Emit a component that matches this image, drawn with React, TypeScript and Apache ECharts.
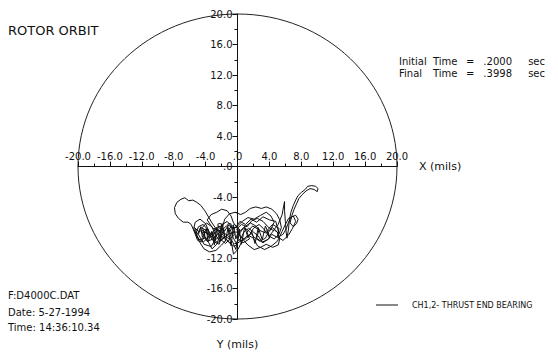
import React, { useEffect, useRef } from "react";
import * as echarts from "echarts";

const titleText = "ROTOR ORBIT";
const seriesName = "CH1,2- THRUST END BEARING";
const xAxisName = "X (mils)";
const yAxisName = "Y (mils)";
const axisMin = -20;
const axisMax = 20;
const axisInterval = 4;
const timeRowLabels = ["Initial", "Final"];
const timeValues = [".2000", ".3998"];
const fileInfo = ["F:D4000C.DAT", "Date: 5-27-1994", "Time: 14:36:10.34"];

// Orbit trace (x, y in mils)
const orbitPoints: [number, number][] = [
  [-5.4, -8.3], [-5.0, -9.4], [-4.3, -9.9], [-3.6, -9.3], [-3.9, -8.4], [-4.6, -8.0], [-4.9, -8.9], [-4.2, -10.2],
  [-3.3, -10.5], [-2.8, -9.6], [-3.1, -8.7], [-2.5, -7.9], [-1.8, -8.4], [-2.2, -9.5], [-1.5, -10.1], [-0.8, -9.3],
  [-1.1, -8.2], [-0.4, -7.6], [0.3, -8.3], [0.0, -9.4], [0.7, -10.0], [1.5, -9.5], [1.2, -8.6], [1.9, -7.8],
  [2.7, -8.3], [2.4, -9.4], [3.2, -10.0], [4.0, -9.4], [3.7, -8.4], [4.4, -7.6], [5.2, -8.1], [5.0, -9.2],
  [5.7, -9.7], [6.4, -9.0], [6.9, -8.1], [7.3, -7.2], [7.0, -6.5], [6.4, -6.8], [6.0, -7.6], [5.6, -8.5],
  [5.0, -9.8], [4.3, -10.4], [3.4, -10.9], [2.5, -10.4], [2.0, -9.4], [1.3, -9.0], [0.6, -9.7], [0.1, -10.8],
  [-0.5, -11.5], [-0.7, -10.3], [-1.4, -9.6], [-2.0, -10.3], [-2.7, -11.0], [-3.5, -11.2], [-4.2, -10.8], [-4.7, -10.0],
  [-5.1, -9.1], [-5.5, -8.2], [-5.3, -7.3], [-4.7, -6.9], [-4.0, -7.5], [-3.6, -8.5], [-3.0, -9.3], [-2.3, -8.8],
  [-2.0, -7.7], [-1.3, -7.2], [-0.7, -7.9], [-0.4, -9.0],
  [-1.0, -9.5], [-1.8, -9.0], [-2.6, -8.3], [-3.2, -7.4], [-3.7, -6.5], [-4.1, -5.8], [-4.6, -5.1], [-5.1, -4.7],
  [-5.6, -4.4], [-6.1, -4.5], [-6.6, -4.1], [-7.1, -4.3], [-7.6, -4.7], [-7.9, -5.4], [-7.8, -6.2], [-7.4, -6.8],
  [-6.8, -7.3], [-6.2, -7.3], [-5.8, -7.6], [-5.4, -8.6], [-5.0, -9.7],
  [-4.5, -9.9], [-4.1, -9.0], [-4.4, -8.0], [-3.9, -7.4], [-3.2, -7.9], [-2.8, -8.9], [-2.2, -9.8], [-1.6, -9.1],
  [-1.9, -8.0], [-1.6, -6.9], [-1.0, -6.2], [-0.3, -6.0], [0.4, -6.3], [1.0, -6.0], [1.6, -5.5], [2.3, -5.3],
  [3.0, -5.5], [3.6, -5.3], [4.3, -5.6], [4.9, -6.2], [5.3, -7.0], [5.5, -8.0], [5.2, -8.9], [4.6, -9.5],
  [3.9, -9.1], [3.3, -8.2], [2.7, -7.6], [2.0, -8.1], [1.5, -9.0], [0.9, -9.6], [0.3, -9.1], [-0.1, -8.2],
  [0.5, -7.6], [1.2, -7.9], [1.8, -7.1], [2.5, -6.8], [3.2, -7.2], [3.8, -7.9], [4.5, -8.4], [5.1, -7.6],
  [5.6, -6.3], [5.8, -5.1], [5.9, -4.6], [5.9, -5.8], [6.0, -7.2], [6.1, -8.6], [6.2, -9.4], [6.4, -8.2],
  [6.5, -7.0], [6.7, -6.0], [7.0, -5.1], [7.3, -4.4], [7.6, -3.8], [8.0, -3.4], [8.5, -3.0], [8.8, -2.6],
  [9.3, -2.5], [9.8, -2.6], [10.1, -2.9], [10.0, -3.3], [9.6, -3.0], [9.1, -2.9], [8.6, -3.2], [8.1, -3.7],
  [7.7, -4.2], [7.4, -4.9], [7.1, -5.6], [6.8, -6.5], [6.6, -7.4],
  [7.0, -7.9], [7.4, -7.5], [7.6, -6.9], [7.3, -6.4], [6.8, -6.6], [6.4, -7.3], [6.1, -8.2], [5.7, -8.9],
  [5.0, -9.3], [4.3, -8.9], [3.8, -9.6], [3.1, -9.9], [2.6, -9.1], [2.0, -8.6], [1.4, -8.1], [0.8, -8.6],
  [0.4, -9.5], [-0.2, -10.0], [-0.6, -9.2], [-0.9, -8.3], [-1.4, -7.8], [-2.0, -8.4], [-2.4, -9.3], [-3.0, -9.8],
  [-3.5, -9.1], [-3.8, -8.2], [-4.3, -7.6], [-4.9, -7.9], [-5.2, -8.8], [-4.8, -9.6], [-4.1, -9.4], [-3.6, -10.0],
  [-3.2, -10.8], [-2.6, -10.2], [-2.3, -9.3], [-1.7, -8.7], [-1.1, -9.2], [-0.6, -9.9], [-0.2, -10.9], [0.0, -9.7],
  [0.3, -8.7], [0.8, -8.0],
  [1.5, -8.5], [2.1, -9.3], [2.8, -9.8], [3.5, -9.4], [3.9, -8.6], [4.4, -8.0], [5.0, -8.6], [5.3, -9.5],
  [5.1, -10.3], [4.4, -10.6], [3.6, -10.2], [2.9, -10.6], [2.1, -10.9], [1.3, -10.3], [0.7, -9.6], [0.2, -9.9],
  [-0.4, -10.5], [-1.0, -10.0], [-1.5, -9.4], [-2.2, -9.1], [-2.8, -8.4], [-3.3, -7.8], [-3.8, -7.0], [-3.3, -6.3],
  [-2.6, -6.0], [-2.0, -5.6], [-1.3, -5.8], [-0.8, -6.5], [-0.5, -7.4], [-0.1, -7.9], [0.6, -7.2], [1.3, -6.7],
  [2.1, -6.9], [2.9, -6.4], [3.6, -6.0], [4.2, -6.5], [4.6, -7.3], [4.2, -8.2], [3.5, -8.7], [2.8, -8.4],
  [2.3, -7.8], [1.6, -7.4], [0.9, -7.9], [0.2, -8.6], [-0.5, -8.6], [-1.2, -8.9], [-1.9, -9.6], [-2.5, -10.0],
  [-3.1, -9.4], [-3.7, -8.9], [-4.3, -8.4], [-4.9, -8.5], [-5.4, -8.0],
  [-5.0, -8.9], [-4.6, -7.9], [-4.4, -9.3], [-3.9, -8.1], [-3.7, -9.9], [-3.2, -8.5], [-2.9, -10.3], [-2.6, -8.0],
  [-2.2, -9.6], [-1.9, -7.5], [-1.5, -9.8], [-1.2, -8.1], [-0.8, -10.4], [-0.5, -7.7], [-0.2, -9.5], [0.2, -8.2],
  [0.5, -10.2], [0.9, -7.9], [1.3, -9.3], [1.8, -8.6], [2.2, -10.1], [2.6, -8.0], [3.1, -9.6], [3.5, -7.8],
  [4.0, -9.1], [4.6, -8.3], [5.2, -8.8], [4.8, -7.2], [4.0, -7.0], [3.2, -6.6], [2.4, -7.3], [1.7, -6.9],
  [1.0, -7.6], [0.3, -7.2], [-0.4, -8.2], [-1.1, -7.7], [-1.8, -8.7], [-2.5, -8.3], [-3.2, -9.2], [-3.8, -8.7],
  [-4.5, -8.6], [-4.0, -9.5], [-3.4, -9.0], [-3.7, -8.2], [-4.2, -8.9], [-3.8, -9.8], [-3.0, -9.5], [-3.3, -8.6],
  [-2.6, -8.9], [-2.9, -9.9], [-2.3, -10.2], [-2.0, -9.2],
];

const FONT = "DejaVu Sans";
const INK = "#111";

// grid placement in pixels
const GRID_LEFT = 78;
const GRID_RIGHT = 161;
const GRID_TOP = 14;
const GRID_BOTTOM = 33;
const GRID_W = 558 - GRID_LEFT - GRID_RIGHT;
const GRID_H = 352 - GRID_TOP - GRID_BOTTOM;

function fmtTick(v: number): string {
  if (v === 0) return ".0";
  return v.toFixed(1);
}

export default function App() {
  const ref = useRef<HTMLDivElement>(null);

  useEffect(() => {
    if (!ref.current) return;
    const chart = echarts.init(ref.current, undefined, { renderer: "svg" });

    const axisCommon = {
      type: "value" as const,
      min: axisMin,
      max: axisMax,
      interval: axisInterval,
      axisLine: { show: true, onZero: false, lineStyle: { color: INK, width: 1 } },
      axisTick: { show: true, inside: false, length: 5, lineStyle: { color: INK, width: 1 } },
      minorTick: { show: true, splitNumber: 2, length: 3, lineStyle: { color: INK, width: 1 } },
      splitLine: { show: false },
      minorSplitLine: { show: false },
      axisLabel: { formatter: fmtTick, margin: 5, color: INK, fontFamily: FONT, fontSize: 10 },
      nameTextStyle: { color: INK, fontFamily: FONT, fontSize: 11 },
    };

    chart.setOption({
      animation: false,
      backgroundColor: "#ffffff",
      grid: { left: GRID_LEFT, right: GRID_RIGHT, top: GRID_TOP, bottom: GRID_BOTTOM, containLabel: false },
      xAxis: {
        ...axisCommon,
        position: "top",
        offset: -GRID_H / 2,
        name: xAxisName,
        nameLocation: "end",
        nameGap: 22,
      },
      yAxis: {
        ...axisCommon,
        position: "left",
        offset: -GRID_W / 2,
        name: yAxisName,
        nameLocation: "start",
        nameGap: 20,
      },
      legend: {
        data: [{ name: seriesName }],
        left: 376,
        top: 301,
        padding: 0,
        icon: "rect",
        itemWidth: 22,
        itemHeight: 1,
        itemGap: 14,
        textStyle: { color: INK, fontFamily: FONT, fontSize: 8, padding: [0, 0, 0, 9] },
      },
      series: [
        {
          type: "line",
          name: seriesName,
          data: orbitPoints,
          showSymbol: false,
          symbol: "none",
          clip: false,
          color: INK,
          lineStyle: { color: INK, width: 1 },
        },
      ],
    });

    const c = chart.convertToPixel({ gridIndex: 0 }, [0, 0]) as number[];
    const e = chart.convertToPixel({ gridIndex: 0 }, [axisMax, axisMax]) as number[];
    const rx = e[0] - c[0];
    const ry = c[1] - e[1];

    const textEl = (text: string, x: number, y: number, size: number, align = "left") => ({
      type: "text",
      x,
      y,
      silent: true,
      style: { text, fill: INK, fontFamily: FONT, fontSize: size, verticalAlign: "middle", align },
    });

    const timeRows = [61, 73];
    const graphics: any[] = [
      {
        type: "ellipse",
        silent: true,
        z: -1,
        shape: { cx: c[0], cy: c[1], rx, ry },
        style: { fill: "none", stroke: "#222", lineWidth: 1 },
      },
      textEl(titleText, 8, 30, 13),
    ];
    timeRowLabels.forEach((lab, i) => {
      graphics.push(textEl(lab, 399, timeRows[i], 10));
      graphics.push(textEl("Time", 433, timeRows[i], 10));
      graphics.push(textEl("=", 466, timeRows[i], 10));
      graphics.push(textEl(timeValues[i], 512, timeRows[i], 10, "right"));
      graphics.push(textEl("sec", 545, timeRows[i], 10, "right"));
    });
    fileInfo.forEach((t, i) => {
      graphics.push(textEl(t, 8, [295, 312, 327][i], 10));
    });

    chart.setOption({ graphic: graphics });

    return () => {
      chart.dispose();
    };
  }, []);

  return (
    <div
      ref={ref}
      style={{ position: "fixed", left: 0, top: 0, width: 558, height: 352, background: "#fff" }}
    />
  );
}
